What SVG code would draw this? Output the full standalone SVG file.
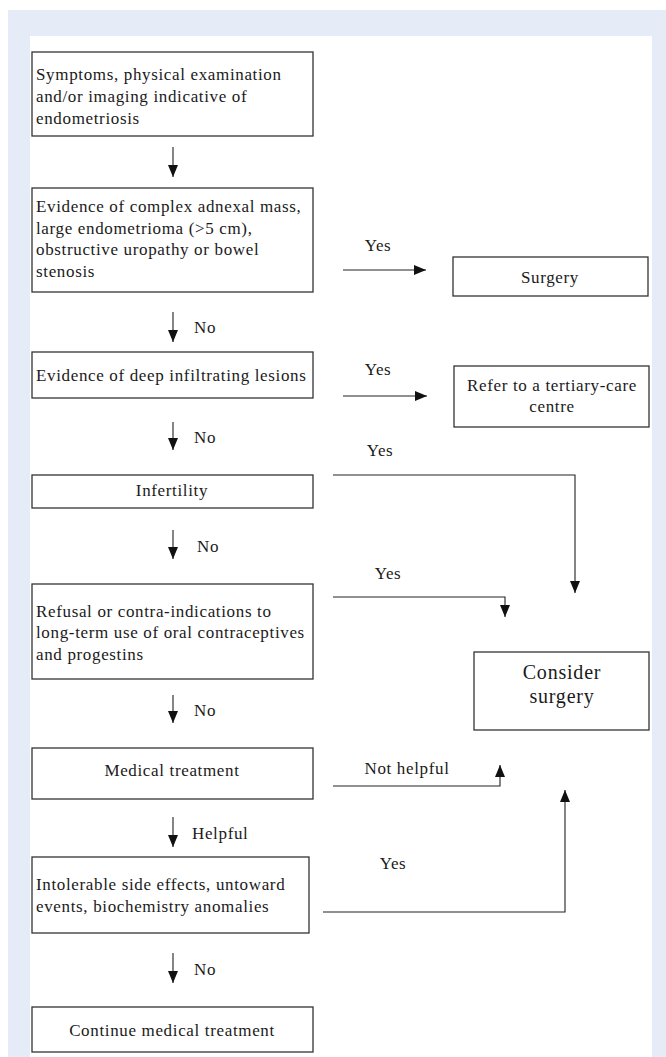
<svg xmlns="http://www.w3.org/2000/svg" width="666" height="1057" viewBox="0 0 666 1057">
<style>
text{font-family:"Liberation Serif","Times New Roman",serif;font-size:17px;letter-spacing:0.65px;fill:#1a1a1a}
.c{text-anchor:middle}
.big{font-size:20px;letter-spacing:0.8px}
.box{fill:#fff;stroke:#333;stroke-width:1.3}
.ln{fill:none;stroke:#222;stroke-width:1.1}
</style>
<defs>
<marker id="ah" markerUnits="userSpaceOnUse" markerWidth="12" markerHeight="10" refX="12" refY="5" orient="auto">
<path d="M0,0 L12,5 L0,10 z" fill="#111"/>
</marker>
</defs>
<rect x="8" y="10" width="658" height="1047" fill="#e6ecf7"/>
<rect x="30" y="36" width="622" height="1021" fill="#fff"/>

<g id="n1"><rect class="box" x="32" y="52" width="281" height="84"/>
<text x="36" y="80">Symptoms, physical examination</text>
<text x="36" y="102">and/or imaging indicative of</text>
<text x="36" y="124">endometriosis</text></g>

<g id="n2"><rect class="box" x="32" y="188" width="281" height="104"/>
<text x="36" y="212">Evidence of complex adnexal mass,</text>
<text x="36" y="234">large endometrioma (&gt;5 cm),</text>
<text x="36" y="255">obstructive uropathy or bowel</text>
<text x="36" y="277">stenosis</text></g>

<g id="n3"><rect class="box" x="453" y="257" width="195" height="39"/>
<text class="c" x="550" y="283">Surgery</text></g>

<g id="n4"><rect class="box" x="32" y="352" width="281" height="46"/>
<text x="36" y="381">Evidence of deep infiltrating lesions</text></g>

<g id="n5"><rect class="box" x="454" y="366" width="195" height="61"/>
<text class="c" x="552" y="391">Refer to a tertiary-care</text>
<text class="c" x="552" y="412">centre</text></g>

<g id="n6"><rect class="box" x="32" y="475" width="281" height="33"/>
<text class="c" x="172" y="496">Infertility</text></g>

<g id="n7"><rect class="box" x="32" y="584" width="281" height="95"/>
<text x="36" y="617">Refusal or contra-indications to</text>
<text x="36" y="638">long-term use of oral contraceptives</text>
<text x="36" y="660">and progestins</text></g>

<g id="n8"><rect class="box" x="474" y="652" width="175" height="78"/>
<text class="c big" x="562" y="679">Consider</text>
<text class="c big" x="562" y="703">surgery</text></g>

<g id="n9"><rect class="box" x="32" y="748" width="281" height="51"/>
<text class="c" x="172" y="776">Medical treatment</text></g>

<g id="n10"><rect class="box" x="32" y="857" width="277" height="76"/>
<text x="36" y="890">Intolerable side effects, untoward</text>
<text x="36" y="912">events, biochemistry anomalies</text></g>

<g id="n11"><rect class="box" x="32" y="1007" width="281" height="45"/>
<text class="c" x="172" y="1036">Continue medical treatment</text></g>

<g id="connectors">
<line class="ln" x1="173" y1="147" x2="173" y2="177" marker-end="url(#ah)"/>
<line class="ln" x1="173" y1="312" x2="173" y2="342" marker-end="url(#ah)"/>
<line class="ln" x1="173" y1="422" x2="173" y2="450" marker-end="url(#ah)"/>
<line class="ln" x1="173" y1="530" x2="173" y2="559" marker-end="url(#ah)"/>
<line class="ln" x1="173" y1="695" x2="173" y2="723" marker-end="url(#ah)"/>
<line class="ln" x1="173" y1="817" x2="173" y2="847" marker-end="url(#ah)"/>
<line class="ln" x1="173" y1="953" x2="173" y2="983" marker-end="url(#ah)"/>
<line class="ln" x1="343" y1="270" x2="426" y2="270" marker-end="url(#ah)"/>
<line class="ln" x1="343" y1="396" x2="427" y2="396" marker-end="url(#ah)"/>
<polyline class="ln" points="333,475 575,475 575,593" marker-end="url(#ah)"/>
<polyline class="ln" points="333,597 505,597 505,617" marker-end="url(#ah)"/>
<polyline class="ln" points="333,786 500,786 500,765" marker-end="url(#ah)"/>
<polyline class="ln" points="323,912 565,912 565,790" marker-end="url(#ah)"/>
<text x="194" y="333">No</text>
<text x="194" y="443">No</text>
<text x="197" y="552">No</text>
<text x="194" y="716">No</text>
<text x="192" y="839">Helpful</text>
<text x="194" y="975">No</text>
<text class="c" x="378" y="251">Yes</text>
<text class="c" x="378" y="375">Yes</text>
<text class="c" x="380" y="456">Yes</text>
<text class="c" x="388" y="579">Yes</text>
<text class="c" x="407" y="774">Not helpful</text>
<text class="c" x="393" y="869">Yes</text>
</g>
</svg>
